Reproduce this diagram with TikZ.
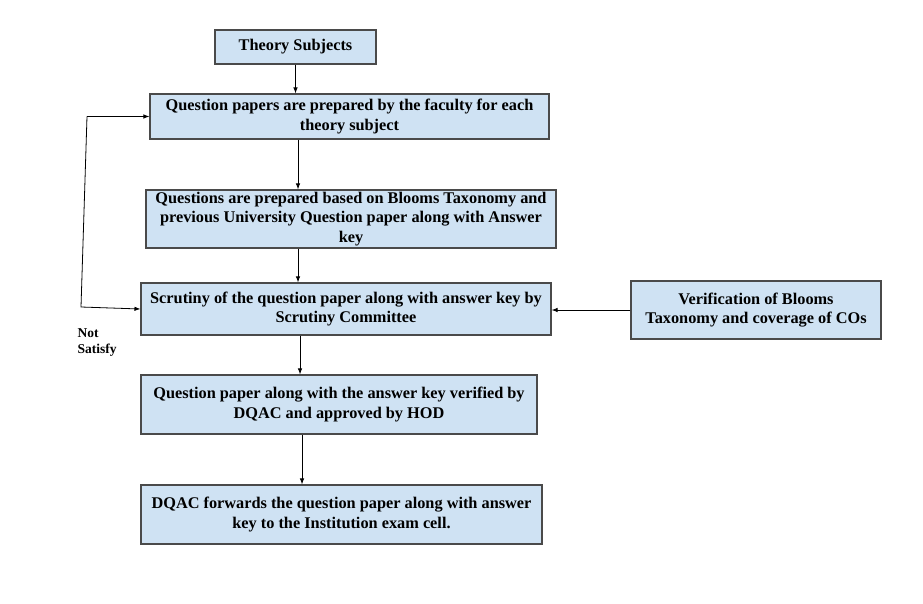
\documentclass[tikz,border=0pt]{standalone}
\usepackage{fontspec}
\setmainfont{Liberation Serif}
\usepackage{tikz}
\usetikzlibrary{positioning}
\usetikzlibrary{arrows.meta}
\definecolor{boxblue}{HTML}{CFE2F3}
\definecolor{boxline}{HTML}{4A4A4A}

\begin{document}
\begin{tikzpicture}[x=1pt,y=-1pt,
    every node/.style={draw=boxline,line width=1.2pt,fill=boxblue,shape=rectangle,align=center,inner sep=0pt,font=\fontsize{16.3}{19.5}\selectfont\bfseries},
    lbl/.style={draw=none,fill=none,align=left,font=\fontsize{13.5}{16}\selectfont\bfseries}]
    \useasboundingbox (0,0) rectangle (923,604);

    \node (theory) [minimum width=161pt,minimum height=34pt] at (295.5, 47) {Theory Subjects};
    \node (prep) [minimum width=399pt,minimum height=45pt] at (349.5, 116.5) {Question papers are prepared by the faculty for each\\ theory subject};
    \node (bloom) [minimum width=410pt,minimum height=58pt] at (351, 219) {Questions are prepared based on Blooms Taxonomy and\\ previous University Question paper along with Answer\\ key};
    \node (scrut) [minimum width=410pt,minimum height=52pt] at (346, 309) {Scrutiny of the question paper along with answer key by\\ Scrutiny Committee};
    \node (verif) [minimum width=250pt,minimum height=58pt] at (756, 310) {Verification of Blooms\\ Taxonomy and coverage of COs};
    \node (approved) [minimum width=396pt,minimum height=59pt] at (339, 404.5) {Question paper along with the answer key verified by\\ DQAC and approved by HOD};
    \node (forward) [minimum width=401pt,minimum height=59pt] at (341.5, 514.5) {DQAC forwards the question paper along with answer\\ key to the Institution exam cell.};
    \node (notsat) [lbl,anchor=north west] at (77, 328) {Not\\ Satisfy};

    \coordinate (colA) at (298, 0);
    \coordinate (colB) at (300, 0);
    \coordinate (colC) at (302, 0);
    \coordinate (fbtop) at (87, 116.5);
    \coordinate (fbbot) at (81, 307);

    \path [-{Latex[scale=0.9]},line width=0.8pt] (theory.south) edge (theory.south |- prep.north);
    \path [-{Latex[scale=0.9]},line width=0.8pt] (prep.south -| colA) edge (bloom.north -| colA);
    \path [-{Latex[scale=0.9]},line width=0.8pt] (bloom.south -| colA) edge (scrut.north -| colA);
    \path [-{Latex[scale=0.9]},line width=0.8pt] (scrut.south -| colB) edge (approved.north -| colB);
    \path [-{Latex[scale=0.9]},line width=0.8pt] (approved.south -| colC) edge (forward.north -| colC);
    \path [-{Latex[scale=0.9]},line width=0.8pt] (verif.west) edge (scrut.east |- verif.west);
    \path [-{Latex[scale=0.9]},line width=0.8pt] (fbtop) edge (prep.west);
    \draw [-{Latex[scale=0.9]},line width=0.8pt] (fbtop) -- (fbbot) -- (scrut.west);
\end{tikzpicture}
\end{document}
